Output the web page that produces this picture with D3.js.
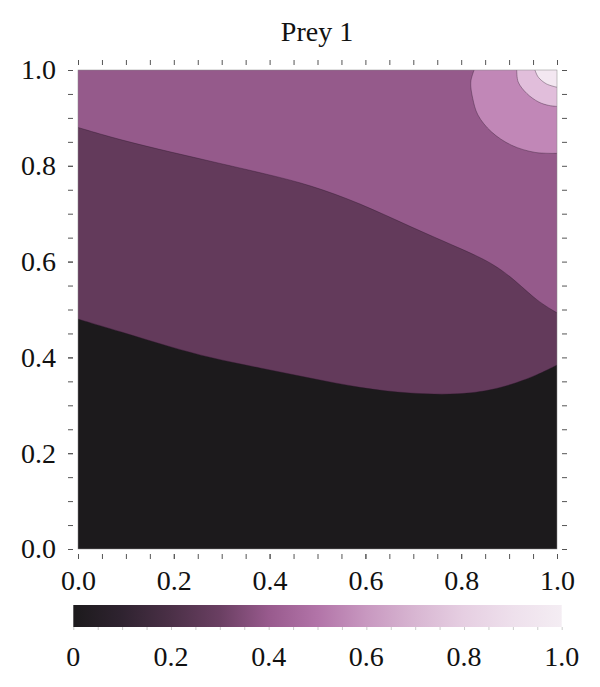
<!DOCTYPE html>
<meta charset="utf-8">
<script src="https://d3js.org/d3.v7.min.js"></script>
<style>
  body { margin: 0; background: #fff; }
  text { font-family: "Liberation Serif", "DejaVu Serif", serif; fill: #111; }
</style>
<body>
<script>

// contour lines, as [x, y] in data units
// lines that run from the left edge to the right edge
var contour1 = [[0, 0.480], [0.088, 0.454], [0.192, 0.422], [0.276, 0.399], [0.380, 0.378],
                [0.484, 0.357], [0.589, 0.336], [0.693, 0.324], [0.797, 0.322], [0.866, 0.332],
                [0.916, 0.347], [0.958, 0.363], [1.0, 0.384]];
var contour2 = [[0, 0.880], [0.088, 0.854], [0.192, 0.829], [0.296, 0.805], [0.401, 0.781],
                [0.484, 0.760], [0.589, 0.722], [0.693, 0.673], [0.797, 0.628], [0.866, 0.597],
                [0.916, 0.558], [0.958, 0.518], [1.0, 0.493]];
// lines that run from the top edge to the right edge
var contour3 = [[0.827, 1.0], [0.820, 0.975], [0.824, 0.941], [0.835, 0.906], [0.863, 0.871],
                [0.905, 0.843], [0.954, 0.828], [1.0, 0.826]];
var contour4 = [[0.916, 1.0], [0.919, 0.975], [0.937, 0.951], [0.962, 0.933], [0.983, 0.926], [1.0, 0.924]];
var contour5 = [[0.954, 1.0], [0.961, 0.985], [0.978, 0.971], [1.0, 0.964]];

// fill of each band, lowest first
var bandColors = ["#1c1a1c", "#633a5b", "#955a8b", "#c187b7", "#e1bedb", "#f3e7f1"];

// colour bar
var barStops = [0, 0.1, 0.2, 0.3, 0.4, 0.5, 0.6, 0.7, 0.8, 0.9, 1.0];
var barColors = ["#1c1a1c", "#2f2330", "#4b3047", "#6a3f62", "#985a8d", "#b274a8",
                 "#c898c0", "#d8b6d2", "#e6cfe2", "#eee0ec", "#f4edf3"];
var barLabels = ["0", "0.2", "0.4", "0.6", "0.8", "1.0"];

var axisTicks = [0, 0.2, 0.4, 0.6, 0.8, 1.0];

var width = 600,
    height = 687;

var svg = d3.select("body").append("svg")
    .attr("width", width)
    .attr("height", height);

var x = d3.scaleLinear().domain([0, 1]).range([78, 557]);
var y = d3.scaleLinear().domain([0, 1]).range([549, 70]);

var minor = d3.range(0, 1.0001, 0.05);

// title
svg.append("text")
    .attr("x", 317)
    .attr("y", 41)
    .attr("text-anchor", "middle")
    .style("font-size", "28px")
    .text("Prey 1");

var smooth = d3.line()
    .x(function(d) { return x(d[0]); })
    .y(function(d) { return y(d[1]); })
    .curve(d3.curveBasis);

var curve = d3.line()
    .x(function(d) { return x(d[0]); })
    .y(function(d) { return y(d[1]); })
    .curve(d3.curveCatmullRom.alpha(0.5));

// region above a contour, closed through the given corners
function region(line, pts, corners) {
    var p = line(pts);
    corners.forEach(function(c) { p += "L" + x(c[0]) + "," + y(c[1]); });
    return p + "Z";
}

var plot = svg.append("g");

plot.append("rect")
    .attr("x", x(0)).attr("y", y(1))
    .attr("width", x(1) - x(0)).attr("height", y(0) - y(1))
    .style("fill", bandColors[0]);

var regions = [
    { pts: contour1, line: smooth, corners: [[1, 1], [0, 1]] },
    { pts: contour2, line: smooth, corners: [[1, 1], [0, 1]] },
    { pts: contour3, line: curve, corners: [[1, 1]] },
    { pts: contour4, line: curve, corners: [[1, 1]] },
    { pts: contour5, line: curve, corners: [[1, 1]] }
];

regions.forEach(function(r, i) {
    plot.append("path")
        .attr("d", region(r.line, r.pts, r.corners))
        .style("fill", bandColors[i + 1]);
    plot.append("path")
        .attr("d", r.line(r.pts))
        .style("fill", "none")
        .style("stroke", "rgba(40,20,40,0.45)")
        .style("stroke-width", 0.8);
});

// thin frame
plot.append("rect")
    .attr("x", x(0)).attr("y", y(1))
    .attr("width", x(1) - x(0)).attr("height", y(0) - y(1))
    .style("fill", "none")
    .style("stroke", "#888")
    .style("stroke-width", 0.5);

// detached ticks on all four sides
function styleAxis(g) {
    g.select(".domain").remove();
    g.selectAll(".tick line").style("stroke", "#555").style("stroke-width", 1);
    g.selectAll(".tick text").style("font-family", "Liberation Serif, serif").style("font-size", "28px").style("fill", "#111");
}

svg.append("g").attr("transform", "translate(0,554)")
    .call(d3.axisBottom(x).tickValues(minor).tickSize(5).tickFormat(""))
    .call(styleAxis);
svg.append("g").attr("transform", "translate(0,65)")
    .call(d3.axisTop(x).tickValues(minor).tickSize(5).tickFormat(""))
    .call(styleAxis);
svg.append("g").attr("transform", "translate(73,0)")
    .call(d3.axisLeft(y).tickValues(minor).tickSize(5).tickFormat(""))
    .call(styleAxis);
svg.append("g").attr("transform", "translate(562,0)")
    .call(d3.axisRight(y).tickValues(minor).tickSize(5).tickFormat(""))
    .call(styleAxis);

// tick labels
svg.append("g").attr("transform", "translate(0,554)")
    .call(d3.axisBottom(x).tickValues(axisTicks).tickSize(5).tickPadding(11).tickFormat(d3.format(".1f")))
    .call(styleAxis);
svg.append("g").attr("transform", "translate(73,0)")
    .call(d3.axisLeft(y).tickValues(axisTicks).tickSize(5).tickPadding(12).tickFormat(d3.format(".1f")))
    .call(styleAxis);

// colour bar
var cx = d3.scaleLinear().domain([0, 1]).range([73.3, 561.7]);

var grad = svg.append("defs").append("linearGradient")
    .attr("id", "bar")
    .attr("x1", "0%").attr("x2", "100%")
    .attr("y1", "0%").attr("y2", "0%");
grad.selectAll("stop")
    .data(barStops)
    .enter().append("stop")
    .attr("offset", function(d) { return (d * 100) + "%"; })
    .attr("stop-color", function(d, i) { return barColors[i]; });

svg.append("rect")
    .attr("x", cx(0)).attr("y", 605)
    .attr("width", cx(1) - cx(0)).attr("height", 22)
    .style("fill", "url(#bar)");

svg.append("g").attr("transform", "translate(0,627)")
    .call(d3.axisBottom(cx).tickValues(minor).tickSize(3).tickFormat(""))
    .call(styleAxis)
    .selectAll(".tick line").style("stroke", "#ccc");

svg.selectAll(".barlabel")
    .data(barLabels)
    .enter().append("text")
    .attr("class", "barlabel")
    .attr("x", function(d) { return cx(+d); })
    .attr("y", 666)
    .attr("text-anchor", "middle")
    .style("font-size", "28px")
    .text(function(d) { return d; });

</script>
</body>
